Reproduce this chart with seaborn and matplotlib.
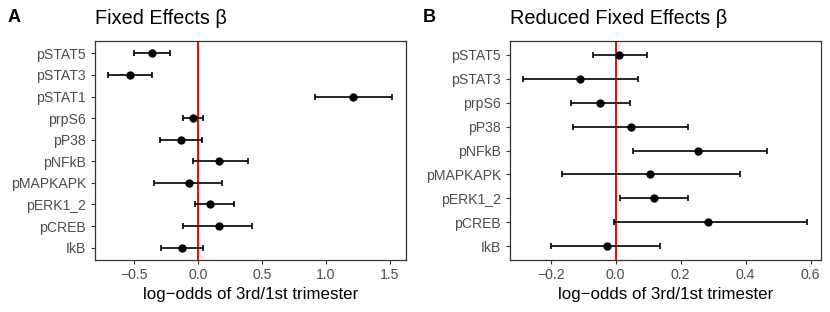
import numpy as np
import pandas as pd
import matplotlib
matplotlib.use("Agg")
import matplotlib.pyplot as plt
import seaborn as sns

# ---- data ----
cats_a = ["pSTAT5", "pSTAT3", "pSTAT1", "prpS6", "pP38", "pNFkB",
          "pMAPKAPK", "pERK1_2", "pCREB", "IkB"]
est_a = [-0.362, -0.529, 1.211, -0.042, -0.135, 0.167, -0.070, 0.091, 0.161, -0.122]
lo_a = [-0.497, -0.706, 0.914, -0.120, -0.299, -0.036, -0.344, -0.021, -0.120, -0.286]
hi_a = [-0.219, -0.362, 1.518, 0.036, 0.031, 0.391, 0.188, 0.284, 0.424, 0.036]

cats_b = ["pSTAT5", "pSTAT3", "prpS6", "pP38", "pNFkB",
          "pMAPKAPK", "pERK1_2", "pCREB", "IkB"]
est_b = [0.011, -0.109, -0.047, 0.047, 0.255, 0.107, 0.117, 0.285, -0.025]
lo_b = [-0.071, -0.285, -0.136, -0.132, 0.054, -0.164, 0.012, -0.006, -0.199]
hi_b = [0.096, 0.068, 0.044, 0.222, 0.465, 0.383, 0.222, 0.590, 0.136]

ticks_a = [-0.5, 0.0, 0.5, 1.0, 1.5]
ticks_b = [-0.2, 0.0, 0.2, 0.4, 0.6]

titles = ["Fixed Effects \u03b2", "Reduced Fixed Effects \u03b2"]
tags = ["A", "B"]
xlabel = "log\u2212odds of 3rd/1st trimester"

sns.set_theme(style="white")
plt.rcParams["font.family"] = ["Liberation Sans", "DejaVu Sans"]
plt.rcParams["axes.unicode_minus"] = True

W, H = 830, 312
fig = plt.figure(figsize=(W / 100, H / 100), dpi=100)

panels = [
    (cats_a, est_a, lo_a, hi_a, ticks_a, (-0.805, 1.625), 95),
    (cats_b, est_b, lo_b, hi_b, ticks_b, (-0.325, 0.632), 510),
]

grey = "#333333"
for i, (cats, est, lo, hi, ticks, xlim, left_px) in enumerate(panels):
    ax = fig.add_axes([left_px / W, (H - 260) / H, 311 / W, 219 / H])
    df = pd.DataFrame({"term": cats, "est": est, "lo": lo, "hi": hi})
    ax.axvline(0, color="#FF0000", lw=1.4, zorder=1)
    ax.errorbar(df["est"], df["term"],
                xerr=[df["est"] - df["lo"], df["hi"] - df["est"]],
                fmt="none", ecolor="black", elinewidth=1.2, capsize=2.5,
                capthick=1.2, zorder=2)
    sns.scatterplot(data=df, x="est", y="term", ax=ax, color="black",
                    s=36, edgecolor="black", linewidth=0, zorder=3)
    n = len(cats)
    ax.set_ylim(n - 1 + 0.57, -0.57)
    ax.set_xlim(*xlim)
    ax.set_xticks(ticks)
    ax.set_xticklabels([f"{t:.1f}".replace("-", "\u2212") for t in ticks])
    ax.set_ylabel("")
    ax.set_xlabel(xlabel, fontsize=12.2, color="black", labelpad=3.5)
    ax.tick_params(axis="both", which="major", length=3.0, width=0.8,
                   color=grey, labelcolor="#4D4D4D", labelsize=10.1,
                   pad=2.6, left=True, bottom=True)
    ax.tick_params(axis="y", pad=3.4)
    for sp in ax.spines.values():
        sp.set_color(grey)
        sp.set_linewidth(0.9)
    ax.grid(False)
    fig.text(left_px / W, 1 - 23.5 / H, titles[i], fontsize=14.3,
             ha="left", va="baseline", color="black")
    fig.text((8 + 415 * i) / W, 1 - 22 / H, tags[i], fontsize=13,
             fontweight="bold", ha="left", va="baseline", color="black")

fig.savefig("out.png", dpi=100)
